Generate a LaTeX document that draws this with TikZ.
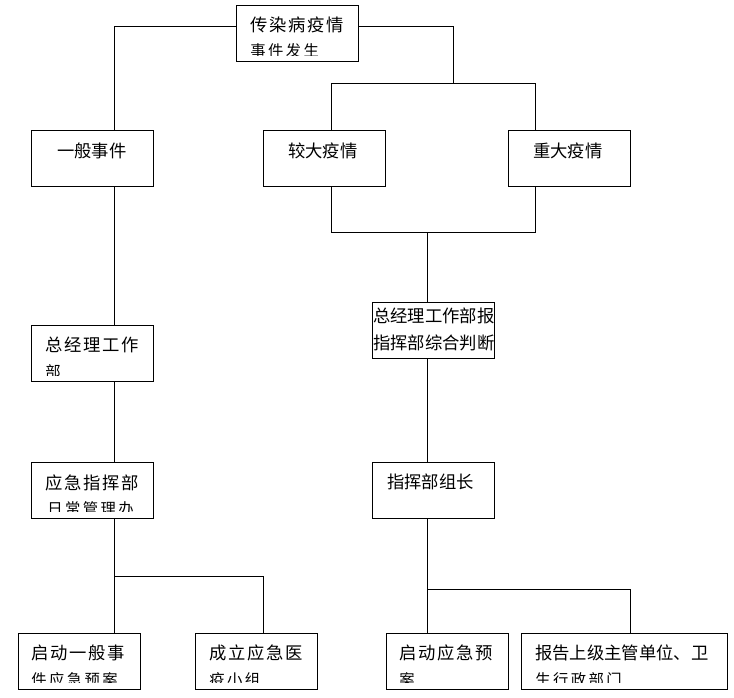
\documentclass[tikz,border=0pt]{standalone}
\usepackage{fontspec}
\setmainfont{Noto Sans CJK SC}
\newfontfamily\cjkplain{Noto Sans CJK SC}
\newfontfamily\cjkspaced[LetterSpace=10]{Noto Sans CJK SC}
\newfontfamily\cjkwide[LetterSpace=16]{Noto Sans CJK SC}
\begin{document}
\begin{tikzpicture}[x=0.75pt,y=-0.75pt,
  box/.style={draw=black, line width=0.75pt, minimum width=91.5pt, minimum height=42pt, inner sep=0pt},
  widebox/.style={box, minimum width=154.5pt},
  lineA/.style={anchor=west, inner sep=0pt, font=\fontsize{13}{15}\selectfont\cjkspaced},
  lineP/.style={anchor=west, inner sep=0pt, font=\fontsize{13}{15}\selectfont\cjkplain},
  lineB/.style={anchor=west, inner sep=0pt, font=\fontsize{11.5}{14}\selectfont\cjkwide},
  conn/.style={draw=black, line width=0.75pt}]
\useasboundingbox (0,0) rectangle (734,698);
% boxes
\node[box] (top) at (297,34) {};
\node[box] (ybsj) at (92.5,159) {};
\node[box] (jd) at (324,159) {};
\node[box] (zd) at (569,159) {};
\node[box] (zjl) at (92.5,353.5) {};
\node[box] (yjzh) at (92.5,490) {};
\node[box] (zjlb) at (433,330) {};
\node[box] (zhbzz) at (433,490) {};
\node[box] (b1) at (79,661) {};
\node[box] (b2) at (256.5,661) {};
\node[box] (b3) at (447.5,661) {};
\node[widebox] (b4) at (624,661) {};
% texts (second lines are cut off by the box's inner margin)
\begin{scope}\clip ([yshift=5.25pt]top.south west) rectangle (top.north east);
\node[lineA] (topa) at (250,25) {传染病疫情};
\node[lineB] (topb) at (250,51) {事件发生};
\end{scope}
\node[lineP] (ybsjt) at (57,151) {一般事件};
\node[lineP] (jdt) at (288,151) {较大疫情};
\node[lineP] (zdt) at (533,151) {重大疫情};
\begin{scope}\clip ([yshift=5.25pt]zjl.south west) rectangle (zjl.north east);
\node[lineA] (zjla) at (45,345) {总经理工作};
\node[lineB] (zjlb2) at (45,372) {部};
\end{scope}
\begin{scope}\clip ([yshift=5.25pt]yjzh.south west) rectangle (yjzh.north east);
\node[lineA] (yjzha) at (45,483) {应急指挥部};
\node[lineB] (yjzhb) at (47,509) {日常管理办};
\end{scope}
\begin{scope}\clip (zjlb.south west) rectangle (zjlb.north east);
\node[lineP] (zjlba) at (373,316) {总经理工作部报};
\node[lineP] (zjlbb) at (373,343) {指挥部综合判断};
\end{scope}
\node[lineP] (zhbzzt) at (387,482) {指挥部组长};
\begin{scope}\clip ([yshift=5.25pt]b1.south west) rectangle (b1.north east);
\node[lineA] (b1a) at (31,653) {启动一般事};
\node[lineB] (b1b) at (31,680) {件应急预案};
\end{scope}
\begin{scope}\clip ([yshift=5.25pt]b2.south west) rectangle (b2.north east);
\node[lineA] (b2a) at (209,653) {成立应急医};
\node[lineB] (b2b) at (209,680) {疫小组};
\end{scope}
\begin{scope}\clip ([yshift=5.25pt]b3.south west) rectangle (b3.north east);
\node[lineA] (b3a) at (399,653) {启动应急预};
\node[lineB] (b3b) at (399,680) {案};
\end{scope}
\begin{scope}\clip ([yshift=5.25pt]b4.south west) rectangle (b4.north east);
\node[lineP] (b4a) at (535,653) {报告上级主管单位、卫};
\node[lineB] (b4b) at (535,680) {生行政部门};
\end{scope}
% junction coordinates
\coordinate (jL) at (114,27);
\coordinate (jR) at (453,27);
\coordinate (jR2) at (453,84);
\coordinate (jA) at (331,84);
\coordinate (jB) at (535,84);
\coordinate (mA) at (331,233);
\coordinate (mB) at (535,233);
\coordinate (mC) at (427,233);
\coordinate (lj) at (114,576);
\coordinate (lj2) at (263,576);
\coordinate (rj) at (427,589);
\coordinate (rj2) at (630,589);
% connectors
\draw[conn] (top.west |- jL) -- (jL) -- (jL |- ybsj.north);
\draw[conn] (top.east |- jR) -- (jR) -- (jR2);
\draw[conn] (jA |- jd.north) -- (jA) -- (jB) -- (jB |- zd.north);
\draw[conn] (jd.south -| mA) -- (mA) -- (mB) -- (zd.south -| mB);
\draw[conn] (mC) -- (mC |- zjlb.north);
\draw[conn] (ybsj.south -| lj) -- (zjl.north -| lj);
\draw[conn] (zjl.south -| lj) -- (yjzh.north -| lj);
\draw[conn] (yjzh.south -| lj) -- (b1.north -| lj);
\draw[conn] (lj) -- (lj2) -- (b2.north -| lj2);
\draw[conn] (zjlb.south -| rj) -- (zhbzz.north -| rj);
\draw[conn] (zhbzz.south -| rj) -- (b3.north -| rj);
\draw[conn] (rj) -- (rj2) -- (b4.north -| rj2);
\end{tikzpicture}
\end{document}
